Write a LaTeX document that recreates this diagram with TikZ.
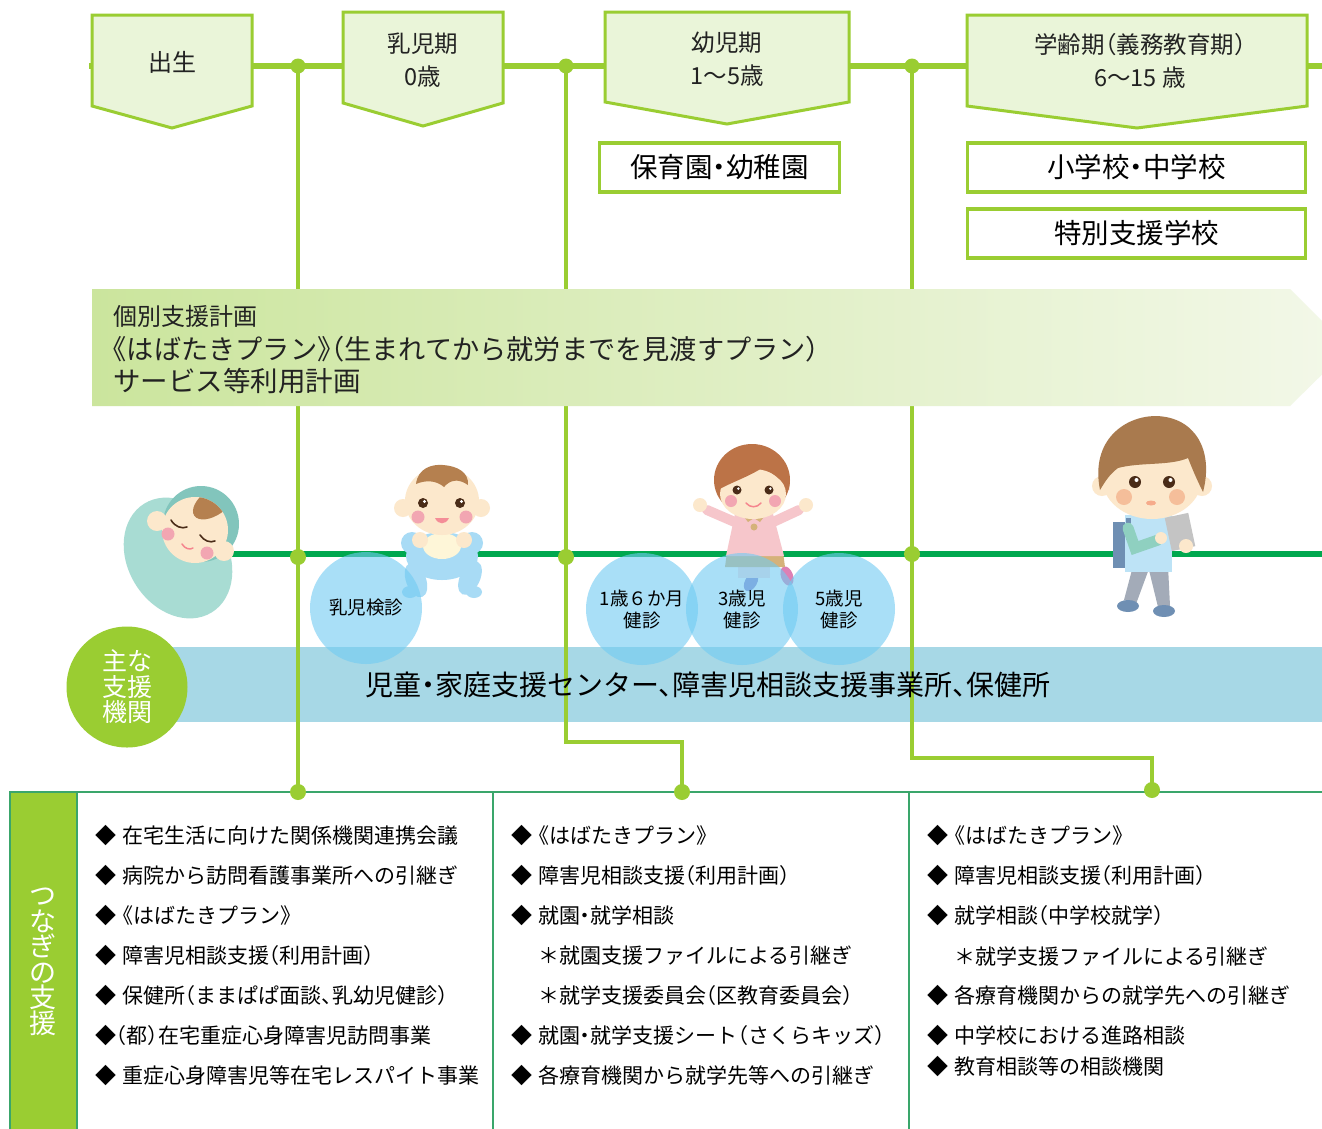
\documentclass[tikz,border=0pt]{standalone}
\usepackage{fontspec}
\newfontfamily\jp[RawFeature=+halt]{Noto Sans CJK JP}
\usetikzlibrary{calc}
\definecolor{ygreen}{HTML}{9ACD32}
\definecolor{pentfill}{HTML}{EAF5D9}
\definecolor{mgreen}{HTML}{00A84F}
\definecolor{tgreen}{HTML}{3AA66B}
\definecolor{bandblue}{HTML}{A7D8E6}
\definecolor{circblue}{HTML}{70CBF3}
\definecolor{txt}{HTML}{222222}
\definecolor{skin}{HTML}{FCE8CC}
\definecolor{hairbr}{HTML}{B5804F}
\definecolor{cheek}{HTML}{F2A6B2}
\definecolor{eyebr}{HTML}{4A2C18}
\definecolor{swad}{HTML}{A8DCD3}
\definecolor{hood}{HTML}{82C5BC}
\definecolor{babyblue}{HTML}{A8DBF5}
\definecolor{bib}{HTML}{FEF6D8}
\definecolor{girlpink}{HTML}{F6C6CB}
\definecolor{collar}{HTML}{D5B27A}
\definecolor{shoeA}{HTML}{8E86CB}
\definecolor{shoeB}{HTML}{DD80B4}
\definecolor{boyhair}{HTML}{A97A4E}
\definecolor{shirt}{HTML}{BDE3F6}
\definecolor{pack}{HTML}{6F8FB3}
\definecolor{sleeve}{HTML}{8FD0C0}
\definecolor{pants}{HTML}{A3ABB8}
\definecolor{phone}{HTML}{C4C4C4}
\definecolor{boycheek}{HTML}{F5BE9A}
\begin{document}
\begin{tikzpicture}[x=1pt,y=-1pt,
  tline/.style={ygreen, line width=6},
  vline/.style={ygreen, line width=3.5},
  pent/.style={fill=pentfill, draw=ygreen, line width=3, line join=miter},
  ptxt/.style={font=\jp\fontsize{23.5}{33}\selectfont, text=txt, align=center, inner sep=0},
  sbox/.style={draw=ygreen, line width=3.2, fill=white, inner sep=0,
    font=\jp\fontsize{27.5}{30}\selectfont, text=black},
  dot/.style={circle, fill=ygreen, inner sep=0, minimum size=15},
  chk/.style={circle, fill=circblue, fill opacity=0.6, text opacity=1, minimum size=112,
    inner sep=0, align=center, font=\jp\fontsize{18.5}{22}\selectfont, text=black},
  plan/.style={anchor=west, inner sep=0, text=txt},
  lst/.style={anchor=west, inner sep=0, font=\jp\fontsize{21}{25}\selectfont, text=black},
  tbl/.style={tgreen, line width=2.5},
  eyeline/.style={eyebr, line width=1.6, line cap=round}
]
\useasboundingbox (0,0) rectangle (1322,1128);
\clip (0,0) rectangle (1322,1128);
\fill[white] (0,0) rectangle (1322,1128);

% ---------- blue agency band ----------
\fill[bandblue] (155,647) rectangle (1322,722);

% ---------- timeline and stage connectors ----------
\coordinate (tl0) at (89,66);
\coordinate (tl1) at (1322,66);
\draw[tline] (tl0) -- (tl1);

\coordinate (t1) at (298,66);  \coordinate (m1) at (298,557); \coordinate (b1) at (298,792);
\coordinate (t2) at (566,66);  \coordinate (m2) at (566,557); \coordinate (k2) at (566,742); \coordinate (b2) at (682,792);
\coordinate (t3) at (912,66);  \coordinate (m3) at (912,554); \coordinate (k3) at (912,758); \coordinate (b3) at (1152,790);

\draw[vline] (t1) -- (m1) -- (b1);
\draw[vline] (t2) -- (m2) -- (k2) -| (b2);
\draw[vline] (t3) -- (m3) -- (k3) -| (b3);

% ---------- support plan band ----------
\shade[left color={rgb,255:red,203;green,229;blue,157}, right color={rgb,255:red,243;green,248;blue,233}]
  (92,289) -- (1290,289) -- (1349,348) -- (1290,406) -- (92,406) -- cycle;
\node[plan, font=\jp\fontsize{24}{28}\selectfont] (plan1) at (113,316) {個別支援計画};
\node[plan, font=\jp\fontsize{27.2}{30}\selectfont] (plan2) at (113,349) {《はばたきプラン》（生まれてから就労までを見渡すプラン）};
\node[plan, font=\jp\fontsize{27.5}{30}\selectfont] (plan3) at (113,381) {サービス等利用計画};

% ---------- life stage pentagons ----------
\filldraw[pent] (92,15) -- (252,15) -- (252,106) -- (172,128) -- (92,106) -- cycle;
\filldraw[pent] (343,12) -- (503,12) -- (503,103) -- (423,126) -- (343,103) -- cycle;
\filldraw[pent] (605,12) -- (849,12) -- (849,102) -- (727,124) -- (605,102) -- cycle;
\filldraw[pent] (967,15) -- (1307,15) -- (1307,106) -- (1137,128) -- (967,106) -- cycle;
\node[ptxt, font=\jp\fontsize{24}{30}\selectfont] (birth) at (172,62) {出生};
\node[ptxt] (infant) at (423,60) {乳児期\\0歳};
\node[ptxt] (toddler) at (727,59) {幼児期\\1～5歳};
\node[ptxt] (school) at (1140,61) {学齢期（義務教育期）\\6～15 歳};

% ---------- institutions ----------
\node[sbox, minimum width=240, minimum height=49] (nursery) at (719.5,167.5) {保育園・幼稚園};
\node[sbox, minimum width=338, minimum height=49] (elem) at (1136.5,167.5) {小学校・中学校};
\node[sbox, minimum width=338, minimum height=49] (special) at (1136.5,233.5) {特別支援学校};

% ---------- growth line ----------
\coordinate (gl0) at (205,554);
\coordinate (gl1) at (1322,554);
\draw[mgreen, line width=6] (gl0) -- (gl1);

% ---------- newborn in swaddle ----------
\fill[swad, rotate around={32:(178,558)}] (178,558) ellipse [x radius=50, y radius=64];
\fill[hood] (201,524) circle [radius=38];
\fill[skin] (157,521) circle [radius=10];
\fill[skin] (224,551) circle [radius=10];
\fill[skin] (195,530) circle [radius=33];
\begin{scope}
  \clip (195,530) circle [radius=33];
  \fill[hairbr, rotate around={35:(214,502)}] (214,502) ellipse [x radius=24, y radius=13];
\end{scope}
\fill[cheek] (168,534) circle [radius=6.5];
\fill[cheek] (207,553) circle [radius=6.5];
\draw[eyeline] (171,520) .. controls (175,527) and (182,529) .. (187,527);
\draw[eyeline] (200,535) .. controls (204,541) and (210,543) .. (215,541);
\draw[cheek!80!red, line width=1.5, line cap=round] (182,544) .. controls (185,549) and (190,550) .. (193,548);

% ---------- sitting baby ----------
\fill[babyblue] (442,556) ellipse [x radius=36, y radius=24];
\fill[babyblue, rotate around={20:(416,580)}] (416,580) ellipse [x radius=10, y radius=18];
\fill[babyblue, rotate around={-25:(470,578)}] (470,578) ellipse [x radius=10, y radius=18];
\fill[babyblue] (410,592) ellipse [x radius=8, y radius=6];
\fill[babyblue] (474,592) ellipse [x radius=8, y radius=6];
\fill[babyblue] (412,543) circle [radius=11];
\fill[babyblue] (472,543) circle [radius=11];
\fill[bib] (442,546) ellipse [x radius=19, y radius=13];
\fill[skin] (420,540) circle [radius=8];
\fill[skin] (464,540) circle [radius=8];
\fill[skin] (403,508) circle [radius=9];
\fill[skin] (481,508) circle [radius=9];
\fill[skin] (442,501) ellipse [x radius=37, y radius=34];
\fill[hairbr] (416,484) .. controls (418,468) and (432,464) .. (443,465)
  .. controls (457,466) and (469,472) .. (468,485)
  .. controls (458,478) and (450,480) .. (444,487)
  .. controls (436,480) and (425,480) .. (416,484) -- cycle;
\fill[eyebr] (423,503) circle [radius=5];
\fill[eyebr] (460,503) circle [radius=5];
\fill[white] (424.5,501.5) circle [radius=1.6];
\fill[white] (461.5,501.5) circle [radius=1.6];
\fill[cheek] (418,517) circle [radius=6.5];
\fill[cheek] (466,517) circle [radius=6.5];
\fill[cheek!85!red] (435,518) .. controls (438,525) and (446,525) .. (449,518) -- cycle;

% ---------- toddler girl ----------
\fill[shoeA, rotate around={-30:(751,582)}] (751,582) ellipse [x radius=6, y radius=10];
\fill[shoeB, rotate around={20:(787,576)}] (787,576) ellipse [x radius=6, y radius=10];
\fill[girlpink!60!white] (738,560) rectangle (770,578);
\fill[collar] (727,552) -- (783,552) -- (785,567) -- (725,567) -- cycle;
\draw[girlpink, line width=10, line cap=round] (737,523) -- (707,510);
\draw[girlpink, line width=10, line cap=round] (771,523) -- (799,510);
\fill[skin] (700,505) circle [radius=7];
\fill[skin] (806,505) circle [radius=7];
\fill[girlpink] (735,514) -- (773,514) -- (784,556) -- (726,556) -- cycle;
\fill[collar] (741,513) -- (767,513) -- (760,522) -- (754,518) -- (748,522) -- cycle;
\fill[collar] (754,527) circle [radius=3.5];
\fill[hairbr!90!red] (752,480) ellipse [x radius=38, y radius=36];
\fill[skin] (753,494) ellipse [x radius=33, y radius=25];
\fill[hairbr!90!red] (718,490) .. controls (716,458) and (734,447) .. (753,447)
  .. controls (773,447) and (792,458) .. (789,490)
  .. controls (782,480) and (772,472) .. (762,468)
  .. controls (748,477) and (732,482) .. (718,490) -- cycle;
\fill[eyebr] (737,490) circle [radius=4.5];
\fill[eyebr] (769,490) circle [radius=4.5];
\fill[white] (738.3,488.6) circle [radius=1.4];
\fill[white] (770.3,488.6) circle [radius=1.4];
\fill[cheek] (731,501) circle [radius=6];
\fill[cheek] (775,501) circle [radius=6];
\draw[cheek!80!red, line width=1.5, line cap=round] (746,503) .. controls (750,508) and (757,508) .. (761,503);

% ---------- schoolboy ----------
\fill[pack] (1113,522) rectangle (1133,568);
\fill[pants] (1133,566) -- (1150,566) -- (1136,604) -- (1124,600) -- cycle;
\fill[pants] (1148,566) -- (1168,566) -- (1170,606) -- (1158,607) -- cycle;
\fill[pack] (1128,606) ellipse [x radius=11, y radius=6];
\fill[pack] (1164,611) ellipse [x radius=11, y radius=6];
\fill[shirt] (1125,515) rectangle (1172,572);
\draw[pack, line width=5] (1128,518) -- (1128,540);
\draw[sleeve, line width=11, line cap=round] (1128,528) -- (1135,548) -- (1158,540);
\fill[skin] (1161,538) circle [radius=6];
\fill[phone, rotate around={12:(1180,532)}] (1168,515) rectangle (1192,549);
\fill[skin] (1186,546) circle [radius=7];
\fill[skin] (1102,486) circle [radius=10];
\fill[skin] (1202,486) circle [radius=10];
\fill[skin] (1152,478) ellipse [x radius=50, y radius=41];
\fill[boyhair] (1100,490) .. controls (1090,440) and (1125,416) .. (1156,416)
  .. controls (1195,417) and (1214,450) .. (1203,492)
  .. controls (1196,478) and (1192,468) .. (1188,458)
  .. controls (1170,466) and (1140,462) .. (1118,468)
  .. controls (1110,474) and (1106,480) .. (1100,490) -- cycle;
\fill[eyebr] (1135,482) circle [radius=6];
\fill[eyebr] (1169,482) circle [radius=6];
\fill[white] (1136.5,480) circle [radius=2];
\fill[white] (1170.5,480) circle [radius=2];
\fill[boycheek] (1124,497) circle [radius=8];
\fill[boycheek] (1177,497) circle [radius=8];
\fill[boycheek!90!red] (1151,503) ellipse [x radius=5, y radius=2.5];

% ---------- health check-ups ----------
\node[chk] (chk0) at (366,608) {乳児検診};
\node[chk] (chk1) at (642,609) {1歳６か月\\健診};
\node[chk] (chk3) at (742,609) {3歳児\\健診};
\node[chk] (chk5) at (839,609) {5歳児\\健診};

% ---------- agencies ----------
\node[circle, fill=ygreen, minimum size=121, inner sep=0, text=white, align=center,
  font=\jp\fontsize{25}{25.5}\selectfont] (agencyhead) at (127,687) {主な\\支援\\機関};
\node[inner sep=0, font=\jp\fontsize{28}{30}\selectfont, text=black] (agency) at (708,685)
  {児童・家庭支援センター、障害児相談支援事業所、保健所};

% ---------- connection table ----------
\fill[ygreen] (10,792) rectangle (77,1130);
\draw[tbl] (10,1130) -- (10,792) -- (1324,792);
\draw[tbl] (77,792) -- (77,1130);
\draw[tbl] (493,792) -- (493,1130);
\draw[tbl] (909,792) -- (909,1130);
\node[inner sep=0, text=white, align=center, font=\jp\fontsize{27}{25.5}\selectfont]
  (tsunagi) at (43,962) {つ\\な\\ぎ\\の\\支\\援};

% dots on the connectors
\node[dot] (d1) at (t1) {};
\node[dot] (d2) at (t2) {};
\node[dot] (d3) at (t3) {};
\node[dot, minimum size=16] (e1) at (m1) {};
\node[dot, minimum size=16] (e2) at (m2) {};
\node[dot, minimum size=16] (e3) at (m3) {};
\node[dot, minimum size=16] (f1) at (b1) {};
\node[dot, minimum size=16] (f2) at (b2) {};
\node[dot, minimum size=16] (f3) at (b3) {};

% column 1
\node[lst] (a1) at (95,836) {◆\hspace{6pt}在宅生活に向けた関係機関連携会議};
\node[lst] (a2) at (95,876) {◆\hspace{6pt}病院から訪問看護事業所への引継ぎ};
\node[lst] (a3) at (95,916) {◆\hspace{7pt}《はばたきプラン》};
\node[lst] (a4) at (95,956) {◆\hspace{6pt}障害児相談支援（利用計画）};
\node[lst] (a5) at (95,996) {◆\hspace{6pt}保健所（ままぱぱ面談、乳幼児健診）};
\node[lst] (a6) at (95,1036) {◆（都）在宅重症心身障害児訪問事業};
\node[lst] (a7) at (95,1076) {◆\hspace{6pt}重症心身障害児等在宅レスパイト事業};
% column 2
\node[lst] (b1) at (511,836) {◆\hspace{7pt}《はばたきプラン》};
\node[lst] (b2) at (511,876) {◆\hspace{6pt}障害児相談支援（利用計画）};
\node[lst] (b3) at (511,916) {◆\hspace{6pt}就園・就学相談};
\node[lst] (b4) at (538,956) {＊就園支援ファイルによる引継ぎ};
\node[lst] (b5) at (538,996) {＊就学支援委員会（区教育委員会）};
\node[lst] (b6) at (511,1036) {◆\hspace{6pt}就園・就学支援シート（さくらキッズ）};
\node[lst] (b7) at (511,1076) {◆\hspace{6pt}各療育機関から就学先等への引継ぎ};
% column 3
\node[lst] (c1) at (927,836) {◆\hspace{7pt}《はばたきプラン》};
\node[lst] (c2) at (927,876) {◆\hspace{6pt}障害児相談支援（利用計画）};
\node[lst] (c3) at (927,916) {◆\hspace{6pt}就学相談（中学校就学）};
\node[lst] (c4) at (954,956) {＊就学支援ファイルによる引継ぎ};
\node[lst] (c5) at (927,996) {◆\hspace{6pt}各療育機関からの就学先への引継ぎ};
\node[lst] (c6) at (927,1036) {◆\hspace{6pt}中学校における進路相談};
\node[lst] (c7) at (927,1067) {◆\hspace{6pt}教育相談等の相談機関};
\end{tikzpicture}
\end{document}
